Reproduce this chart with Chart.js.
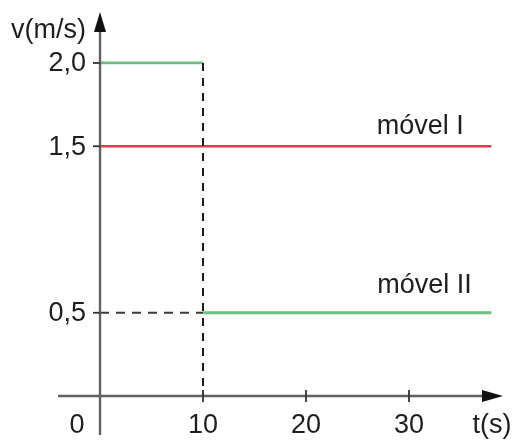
<!DOCTYPE html>
<html>
<head>
<meta charset="utf-8">
<script src="https://cdn.jsdelivr.net/npm/chart.js@4.4.1/dist/chart.umd.min.js"></script>
<style>
  html, body { margin: 0; padding: 0; background: #fff; }
  #grafico { display: block; }
</style>
</head>
<body>
<canvas id="grafico" width="514" height="440"></canvas>
<script>
// dados do gráfico v x t
const tempoI = [0, 38];
const velI = [1.5, 1.5];
const tempoII = [0, 10, 10, 10, 38];
const velII = [2.0, 2.0, null, 0.5, 0.5];

// linhas tracejadas de referência
const guiaVertT = [10, 10];
const guiaVertV = [2.0, 0];
const guiaHorT = [0, 10];
const guiaHorV = [0.5, 0.5];

// marcas e rótulos dos eixos
const ticksT = [10, 20, 30];
const rotulosT = ['10', '20', '30'];
const ticksV = [0.5, 1.5, 2.0];
const rotulosV = ['0,5', '1,5', '2,0'];

const FONTE = '27px "Liberation Sans", Arial, sans-serif';
const COR_EIXO = '#616161';
const COR_TEXTO = '#1e1e1e';

const pares = (xs, ys) => xs.map((x, i) => ({ x: x, y: ys[i] }));

// desenha eixos com setas, marcas e textos
const eixosPlugin = {
  id: 'eixos',
  afterDatasetsDraw(chart) {
    const { ctx, chartArea, scales } = chart;
    const sx = scales.x, sy = scales.y;
    const x0 = sx.getPixelForValue(0);
    const y0 = sy.getPixelForValue(0);
    ctx.save();

    ctx.strokeStyle = COR_EIXO;
    ctx.fillStyle = '#111';
    ctx.lineWidth = 2.4;

    // eixo t
    ctx.beginPath();
    ctx.moveTo(chartArea.left, y0);
    ctx.lineTo(chartArea.right - 16, y0);
    ctx.stroke();
    ctx.beginPath();
    ctx.moveTo(chartArea.right, y0);
    ctx.lineTo(chartArea.right - 21, y0 - 6);
    ctx.lineTo(chartArea.right - 21, y0 + 6);
    ctx.closePath();
    ctx.fill();

    // eixo v
    ctx.beginPath();
    ctx.moveTo(x0, chartArea.bottom);
    ctx.lineTo(x0, chartArea.top + 14);
    ctx.stroke();
    ctx.beginPath();
    ctx.moveTo(x0, chartArea.top);
    ctx.lineTo(x0 - 6, chartArea.top + 20);
    ctx.lineTo(x0 + 6, chartArea.top + 20);
    ctx.closePath();
    ctx.fill();

    // marcas
    ctx.lineWidth = 1.8;
    ctx.strokeStyle = '#333';
    ticksT.forEach(t => {
      const px = sx.getPixelForValue(t);
      ctx.beginPath();
      ctx.moveTo(px, y0 - 6);
      ctx.lineTo(px, y0 + 6);
      ctx.stroke();
    });
    ticksV.forEach(v => {
      const py = sy.getPixelForValue(v);
      ctx.beginPath();
      ctx.moveTo(x0 - 7, py);
      ctx.lineTo(x0, py);
      ctx.stroke();
    });

    // textos
    ctx.font = FONTE;
    ctx.fillStyle = COR_TEXTO;
    ctx.textAlign = 'center';
    ctx.textBaseline = 'alphabetic';
    ticksT.forEach((t, i) => {
      ctx.fillText(rotulosT[i], sx.getPixelForValue(t), y0 + 37);
    });
    ctx.fillText('0', x0 - 23, y0 + 37);
    ctx.fillText('t(s)', chartArea.right - 11, y0 + 37);

    ctx.textAlign = 'right';
    ctx.textBaseline = 'middle';
    ticksV.forEach((v, i) => {
      ctx.fillText(rotulosV[i], x0 - 14, sy.getPixelForValue(v) + 1);
    });

    ctx.textAlign = 'left';
    ctx.textBaseline = 'alphabetic';
    ctx.fillText('v(m/s)', 11, 38);

    // nomes das séries
    ctx.textAlign = 'center';
    ctx.fillText('móvel I', sx.getPixelForValue(31.1), sy.getPixelForValue(1.5) - 12);
    ctx.fillText('móvel II', sx.getPixelForValue(31.5), sy.getPixelForValue(0.5) - 20);

    ctx.restore();
  }
};

new Chart(document.getElementById('grafico'), {
  type: 'scatter',
  data: {
    datasets: [
      {
        label: 'guia vertical',
        data: pares(guiaVertT, guiaVertV),
        showLine: true,
        borderColor: '#1a1a1a',
        borderWidth: 2,
        borderDash: [8, 7],
        pointRadius: 0
      },
      {
        label: 'guia horizontal',
        data: pares(guiaHorT, guiaHorV),
        showLine: true,
        borderColor: '#3a3a3a',
        borderWidth: 2,
        borderDash: [9, 7],
        pointRadius: 0
      },
      {
        label: 'móvel I',
        data: pares(tempoI, velI),
        showLine: true,
        borderColor: '#d9404a',
        borderWidth: 2.4,
        pointRadius: 0
      },
      {
        label: 'móvel II',
        data: pares(tempoII, velII),
        showLine: true,
        spanGaps: false,
        borderColor: '#6cc07e',
        borderWidth: 2.8,
        pointRadius: 0
      }
    ]
  },
  options: {
    responsive: false,
    animation: false,
    layout: { padding: { left: 58, right: 11, top: 12, bottom: 5 } },
    plugins: {
      legend: { display: false },
      tooltip: { enabled: false }
    },
    scales: {
      x: { type: 'linear', min: -4.08, max: 39.13, display: false },
      y: { type: 'linear', min: -0.234, max: 2.306, display: false }
    }
  },
  plugins: [eixosPlugin]
});
</script>
</body>
</html>
